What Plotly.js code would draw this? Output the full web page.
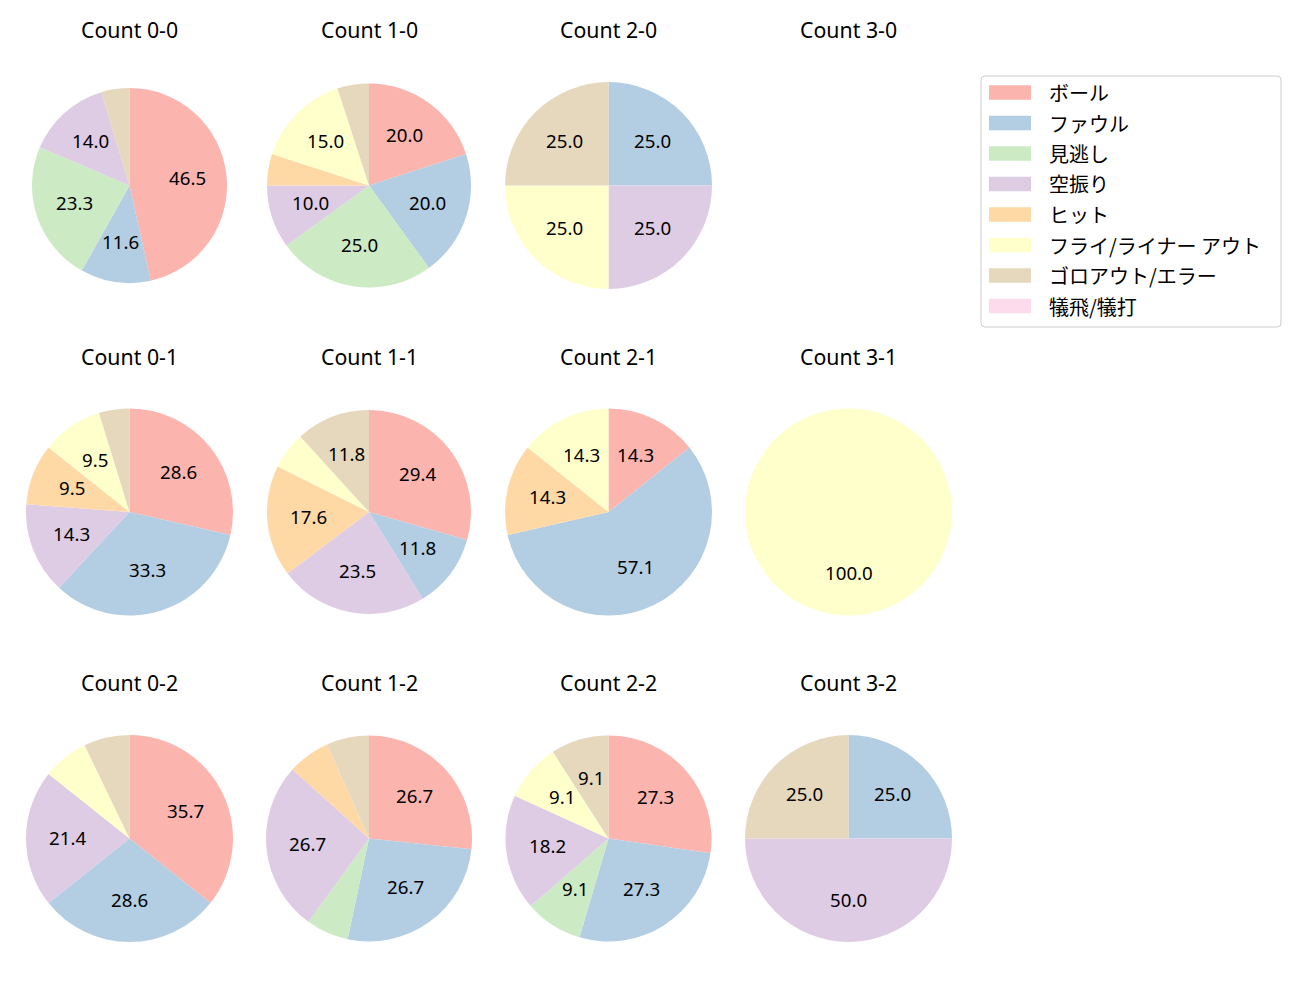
<!DOCTYPE html>
<html>
<head>
<meta charset="utf-8">
<script src="https://cdn.plot.ly/plotly-3.0.1.min.js"></script>
<style>html,body{margin:0;padding:0;background:#fff;}#chart{width:1300px;height:1000px;}</style>
</head>
<body>
<div id="chart"></div>
<script>
// ---- data ----
const categories = ['ボール','ファウル','見逃し','空振り','ヒット','フライ/ライナー アウト','ゴロアウト/エラー','犠飛/犠打'];
const colors = ['#fbb4ae','#b3cde3','#ccebc5','#decbe4','#fed9a6','#ffffcc','#e5d8bd','#fddaec'];
const countLabels = ['0-0','1-0','2-0','3-0','0-1','1-1','2-1','3-1','0-2','1-2','2-2','3-2'];
const c00 = [20,5,10,6,0,0,2,0];
const c10 = [4,4,5,2,1,3,1,0];
const c20 = [0,1,0,1,0,1,1,0];
const c30 = [0,0,0,0,0,0,0,0];
const c01 = [6,7,0,3,2,2,1,0];
const c11 = [5,2,0,4,3,1,2,0];
const c21 = [1,4,0,0,1,1,0,0];
const c31 = [0,0,0,0,0,1,0,0];
const c02 = [5,4,0,3,0,1,1,0];
const c12 = [4,4,1,4,1,0,1,0];
const c22 = [3,3,1,2,0,1,1,0];
const c32 = [0,1,0,2,0,0,1,0];
const countValues = [c00,c10,c20,c30,c01,c11,c21,c31,c02,c12,c22,c32];

// ---- layout geometry (pixels) ----
const W = 1300, H = 1000;
const colX = [129.5, 369, 608.5, 848.5];
const rowY = [185.5, 512, 838.5];
const titleY = [29, 356, 682];
const radii = [97.5,102,103.5,103.5, 103.5,102,103.5,103.5, 103.5,103,103,103.5];
const FONT = '"Noto Sans", "Noto Sans CJK JP", sans-serif';
const FONT_JP = '"Noto Sans CJK JP", "Noto Sans", sans-serif';

const px = x => x / W;
const py = y => 1 - y / H;

const traces = [];
const annotations = [];
const shapes = [];

countValues.forEach((vals, i) => {
  const col = i % 4, row = Math.floor(i / 4);
  const cx = colX[col], cy = rowY[row], r = radii[i];
  annotations.push({
    x: px(cx), y: py(titleY[row]), xref: 'paper', yref: 'paper',
    text: 'Count ' + countLabels[i], showarrow: false,
    xanchor: 'center', yanchor: 'middle',
    font: {family: FONT, size: 21.3, color: '#000'}
  });
  const total = vals.reduce((a, b) => a + b, 0);
  if (total === 0) return;
  traces.push({
    type: 'pie',
    labels: categories,
    values: vals,
    marker: {colors: colors, line: {width: 0}},
    sort: false,
    direction: 'clockwise',
    rotation: 0,
    textinfo: 'none',
    hoverinfo: 'label+percent',
    showlegend: false,
    domain: {x: [px(cx - r), px(cx + r)], y: [py(cy + r), py(cy - r)]}
  });
  // percentage labels at 0.6 radius (matplotlib pctdistance)
  let cum = 0;
  vals.forEach(v => {
    if (v <= 0) return;
    const frac = v / total;
    const pct = frac * 100;
    const theta = 2 * Math.PI * (cum + frac / 2);
    cum += frac;
    if (pct < 8) return;
    const lx = cx + 0.6 * r * Math.sin(theta);
    const ly = cy - 0.6 * r * Math.cos(theta) - 1.5;
    annotations.push({
      x: px(lx), y: py(ly), xref: 'paper', yref: 'paper',
      text: pct.toFixed(1), showarrow: false,
      xanchor: 'center', yanchor: 'middle',
      font: {family: FONT, size: 18.7, color: '#000'}
    });
  });
});

// ---- legend (matplotlib style) ----
const lgX0 = 981, lgX1 = 1281, lgY0 = 76, lgY1 = 327, rad = 4;
shapes.push({
  type: 'path', xref: 'paper', yref: 'paper',
  path: `M ${px(lgX0+rad)} ${py(lgY0)} L ${px(lgX1-rad)} ${py(lgY0)} Q ${px(lgX1)} ${py(lgY0)} ${px(lgX1)} ${py(lgY0+rad)} ` +
        `L ${px(lgX1)} ${py(lgY1-rad)} Q ${px(lgX1)} ${py(lgY1)} ${px(lgX1-rad)} ${py(lgY1)} ` +
        `L ${px(lgX0+rad)} ${py(lgY1)} Q ${px(lgX0)} ${py(lgY1)} ${px(lgX0)} ${py(lgY1-rad)} ` +
        `L ${px(lgX0)} ${py(lgY0+rad)} Q ${px(lgX0)} ${py(lgY0)} ${px(lgX0+rad)} ${py(lgY0)} Z`,
  fillcolor: 'rgba(255,255,255,0.8)', line: {color: '#cccccc', width: 1}
});
categories.forEach((name, k) => {
  const yc = 92.5 + k * 30.5;
  shapes.push({
    type: 'rect', xref: 'paper', yref: 'paper',
    x0: px(989), x1: px(1031), y0: py(yc + 7.2), y1: py(yc - 7.2),
    fillcolor: colors[k], line: {width: 0}
  });
  annotations.push({
    x: px(1047), y: py(yc), xref: 'paper', yref: 'paper',
    text: name, showarrow: false, xanchor: 'left', yanchor: 'middle',
    font: {family: FONT_JP, size: 20, color: '#000'}
  });
});

const layout = {
  width: W, height: H,
  margin: {l: 0, r: 0, t: 0, b: 0},
  paper_bgcolor: '#fff',
  showlegend: false,
  annotations: annotations,
  shapes: shapes,
  font: {family: FONT}
};

Plotly.newPlot('chart', traces, layout, {staticPlot: true});
</script>
</body>
</html>
